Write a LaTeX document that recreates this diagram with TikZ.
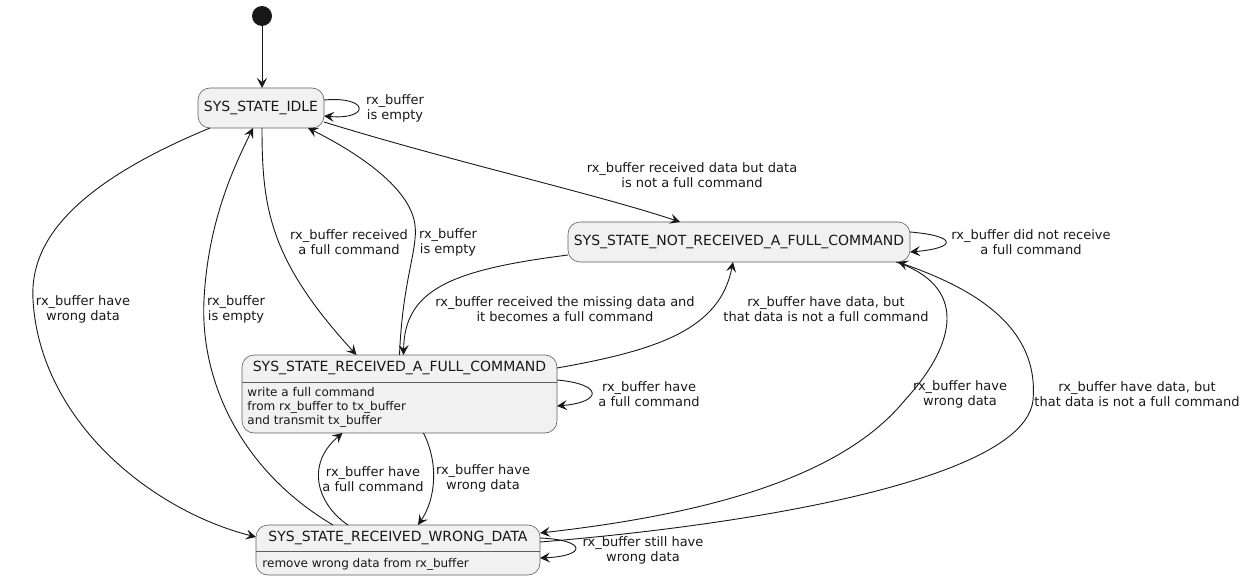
\documentclass[tikz,border=0pt]{standalone}
\usepackage{fontspec}
\setmainfont{DejaVu Sans}
\usetikzlibrary{arrows.meta, calc}

\definecolor{boxfill}{HTML}{F1F1F1}
\definecolor{boxline}{HTML}{5F5F5F}
\definecolor{linecol}{HTML}{181818}

\begin{document}
\begin{tikzpicture}[
            x = 1pt, y = -1pt, % one unit per pixel, y runs down
            > = {Stealth[length=10pt, width=10pt, inset=4pt]}, % arrow head style
            color = linecol,
            line width = 0.9pt % line style
        ]

        \tikzstyle{state}=[
        draw = boxline,
        line width = 0.6pt,
        fill = boxfill,
        rounded corners = 12pt,
        outer sep = 0pt,
        inner sep = 0pt,
        font = \fontsize{14}{16}\selectfont
        ]
        \tikzstyle{statebody}=[inner sep = 0pt, align = left, font = \fontsize{12}{14}\selectfont]
        \tikzstyle{lbl}=[inner sep = 0pt, align = center, font = \fontsize{13}{15}\selectfont]

        \useasboundingbox (0,0) rectangle (1245,580);

        % states
        \node[circle, fill = linecol, minimum size = 20pt, inner sep = 0pt] (start) at (262,16) {};
        \node[state, minimum width = 126pt, minimum height = 40pt] (idle) at (261,108) {SYS\_STATE\_IDLE};
        \node[state, minimum width = 342pt, minimum height = 40pt] (notfull) at (739,242) {SYS\_STATE\_NOT\_RECEIVED\_A\_FULL\_COMMAND};
        \node[state, minimum width = 315pt, minimum height = 78pt] (full) at (399.5,394) {};
        \node[state, minimum width = 284pt, minimum height = 50pt] (wrong) at (398,550) {};

        \node[font = \fontsize{14}{16}\selectfont, inner sep = 0pt] (fulltitle) at (full.north |- 0,368) {SYS\_STATE\_RECEIVED\_A\_FULL\_COMMAND};
        \draw[boxline, line width = 0.6pt] (full.west |- 0,382) -- (full.east |- 0,382);
        \node[statebody, anchor = west] (fullbody) at (247,407) {write a full command\\from rx\_buffer to tx\_buffer\\and transmit tx\_buffer};

        \node[font = \fontsize{14}{16}\selectfont, inner sep = 0pt] (wrongtitle) at (wrong.north |- 0,538) {SYS\_STATE\_RECEIVED\_WRONG\_DATA};
        \draw[boxline, line width = 0.6pt] (wrong.west |- 0,551) -- (wrong.east |- 0,551);
        \node[statebody, anchor = west] (wrongbody) at (262,564) {remove wrong data from rx\_buffer};

        % transitions
        \draw[->] (start) -- (start |- idle.north);
        \draw[->] ($(idle.east)+(0,-8)$) .. controls +(46,-4) and +(46,4) .. ($(idle.east)+(0,8)$);
        \draw[->] ($(idle.east)+(0,14)$) .. controls +(126,39) and +(-80,-27) .. ($(notfull.north)+(-59,0)$);
        \draw[->] ($(idle.south west)+(12,0)$) .. controls +(-150,62) and +(-3,-50) .. (33,300)
            .. controls +(7,120) and +(-106,-27) .. ($(wrong.west)+(0,-13)$);
        \draw[->] ($(wrong.north west)+(77,0)$) .. controls +(-93,-55) and +(-4,80) .. (204,300)
            .. controls +(4,-80) and +(-18,37) .. ($(idle.south)+(-8,0)$);
        \draw[->] ($(idle.south)+(1,0)$) .. controls +(0,80) and +(-87,-95) .. ($(full.north)+(-43,0)$);
        \draw[->] ($(full.north)+(0,0)$) .. controls +(3,-75) and +(3,25) .. (415,225)
            .. controls +(-5,-40) and +(42,21) .. ($(idle.south east)+(-16,0)$);
        \draw[->] ($(notfull.east)+(0,-10)$) .. controls +(48,4) and +(47,-4) .. ($(notfull.east)+(0,10)$);
        \draw[->] ($(notfull.west)+(0,13)$) .. controls +(-118,15) and +(1,-65) .. ($(full.north)+(4,0)$);
        \draw[->] ($(full.east)+(0,-26)$) .. controls +(102,-18) and +(-13,67) .. ($(notfull.south)+(-6,0)$);
        \draw[->] ($(full.east)+(0,-14)$) .. controls +(46,4) and +(46,-4) .. ($(full.east)+(0,12)$);
        \draw[->] ($(full.south)+(24,0)$) .. controls +(16,32) and +(17,-25) .. ($(wrong.north)+(20,0)$);
        \draw[->] ($(wrong.north)+(-50,0)$) .. controls +(-30,-20) and +(-38,32) .. ($(full.south)+(-57,0)$);
        \draw[->] ($(notfull.south east)+(-14,0)$) .. controls +(69,23) and +(55,-60) .. (905,400)
            .. controls +(-65,80) and +(159,-18) .. ($(wrong.east)+(0,-17)$);
        \draw[->] ($(wrong.east)+(0,-8)$) .. controls +(209,-17) and +(-8,80) .. (1033,400)
            .. controls +(7,-80) and +(62,22) .. ($(notfull.south east)+(-12,0)$);
        \draw[->] ($(wrong.east)+(0,-12)$) .. controls +(47,2) and +(47,-2) .. ($(wrong.east)+(0,8)$);

        % labels
        \node[lbl] (lidleloop) at (395,108) {rx\_buffer\\is empty};
        \node[lbl] (lidlenot) at (692,175) {rx\_buffer received data but data\\is not a full command};
        \node[lbl] (lidlewrong) at (83,309) {rx\_buffer have\\wrong data};
        \node[lbl] (lwrongidle) at (236,309) {rx\_buffer\\is empty};
        \node[lbl] (lidlefull) at (349,242) {rx\_buffer received\\a full command};
        \node[lbl] (lfullidle) at (448,242) {rx\_buffer\\is empty};
        \node[lbl] (lnotloop) at (1031,242) {rx\_buffer did not receive\\a full command};
        \node[lbl] (lnotfull) at (565,309) {rx\_buffer received the missing data and\\it becomes a full command};
        \node[lbl] (lfullnot) at (826,309) {rx\_buffer have data, but\\that data is not a full command};
        \node[lbl] (lfullloop) at (649,394) {rx\_buffer have\\a full command};
        \node[lbl] (lfullwrong) at (483,478) {rx\_buffer have\\wrong data};
        \node[lbl] (lwrongfull) at (373,479) {rx\_buffer have\\a full command};
        \node[lbl] (lnotwrong) at (960,394) {rx\_buffer have\\wrong data};
        \node[lbl] (lwrongnot) at (1137,394) {rx\_buffer have data, but\\that data is not a full command};
        \node[lbl] (lwrongloop) at (643,550) {rx\_buffer still have\\wrong data};
    \end{tikzpicture}
\end{document}
